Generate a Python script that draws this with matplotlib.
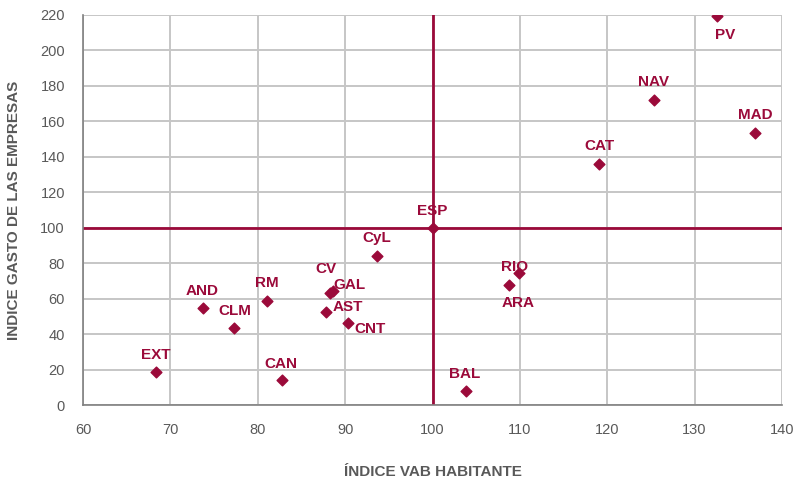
import matplotlib
matplotlib.use("Agg")
import matplotlib.pyplot as plt

plt.rcParams['font.family'] = ['Liberation Sans', 'DejaVu Sans']

RED = "#9b0a3a"
GREY = "#595959"

# regions: VAB per capita index vs business expenditure index
regions = ["PV", "NAV", "MAD", "CAT", "ESP", "CyL", "RIO", "ARA", "CV", "GAL",
           "AST", "CNT", "RM", "AND", "CLM", "EXT", "CAN", "BAL"]
vab     = [132.6, 125.3, 136.9, 119.1, 100.0, 93.6, 109.9, 108.8, 88.3, 88.6,
           87.8, 90.3, 81.0, 73.7, 77.3, 68.4, 82.8, 103.8]
gasto   = [219.5, 172.0, 153.4, 135.9, 100.0, 84.0, 74.4, 67.7, 63.2, 64.3,
           52.6, 46.4, 58.7, 54.7, 43.4, 18.6, 14.1, 7.9]

# label offsets in pixels (dx, dy) relative to the marker
offsets = {"PV": (8, -19), "NAV": (0, 18), "MAD": (0, 18), "CAT": (0, 18),
           "ESP": (0, 17), "CyL": (0, 18), "RIO": (-4, 6), "ARA": (9, -18),
           "CV": (-4, 24), "GAL": (17, 6), "AST": (22, 5), "CNT": (22, -6),
           "RM": (0, 18), "AND": (-1, 17), "CLM": (1, 17), "EXT": (-1, 17),
           "CAN": (-1, 16), "BAL": (-1, 17)}

fig = plt.figure(figsize=(7.96, 4.8), dpi=100)
ax = fig.add_axes([0.1043, 0.156, 0.8781, 0.813])

ax.set_xlim(60, 140)
ax.set_ylim(0, 220)
ax.set_xticks(range(60, 141, 10))
ax.set_yticks(range(0, 221, 20))
ax.grid(True, color="#c6c6c6", linewidth=1.4)
ax.set_axisbelow(True)

ax.axvline(100, color=RED, linewidth=2, zorder=2)
ax.axhline(100, color=RED, linewidth=2, zorder=2)

ax.scatter(vab, gasto, marker="D", s=30, color=RED, zorder=3)

for name, x, y in zip(regions, vab, gasto):
    dx, dy = offsets[name]
    ax.annotate(name, (x, y), xytext=(dx, dy), textcoords="offset pixels",
                ha="center", va="center", color=RED, fontsize=11,
                fontweight="bold", zorder=4)

for side in ["top", "right"]:
    ax.spines[side].set_visible(False)
for side in ["left", "bottom"]:
    ax.spines[side].set_color("#808080")
    ax.spines[side].set_linewidth(1.2)
ax.tick_params(colors=GREY, labelsize=10.5, length=0)
ax.tick_params(axis="x", pad=13)
ax.tick_params(axis="y", pad=13)

ax.set_xlabel("ÍNDICE VAB HABITANTE", color=GREY, fontsize=11,
              fontweight="bold", labelpad=20)
ax.set_ylabel("INDICE GASTO DE LAS EMPRESAS", color=GREY, fontsize=11,
              fontweight="bold", labelpad=14)

fig.savefig("out.png", dpi=100, facecolor="white")
